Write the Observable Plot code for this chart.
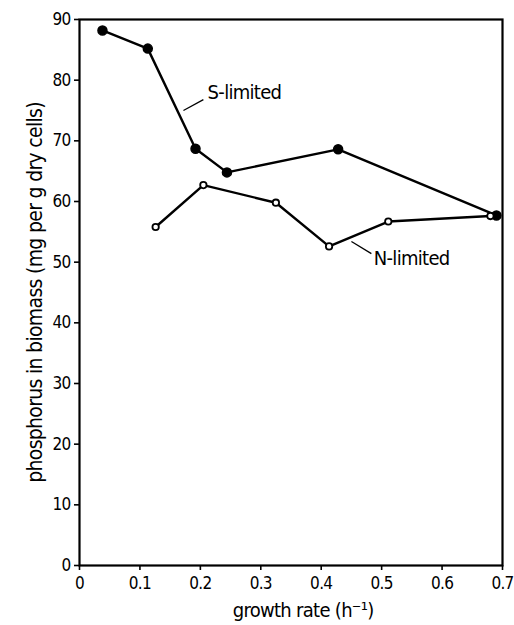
<!DOCTYPE html>
<html>
<head>
<meta charset="utf-8">
<script src="https://cdn.jsdelivr.net/npm/d3@7"></script>
<script src="https://cdn.jsdelivr.net/npm/@observablehq/plot@0.6"></script>
<style>
  html, body { margin: 0; padding: 0; background: #fff; }
  #chart svg { display: block; }
</style>
</head>
<body>
<div id="chart"></div>
<script>
// S-limited (filled circles)
const sGrowth = [0.038, 0.113, 0.192, 0.244, 0.428, 0.690];
const sPhos   = [88.2, 85.2, 68.7, 64.8, 68.6, 57.7];
// N-limited (open circles)
const nGrowth = [0.126, 0.205, 0.325, 0.413, 0.511, 0.680];
const nPhos   = [55.8, 62.7, 59.8, 52.6, 56.7, 57.6];

const xTicks = [0, 0.1, 0.2, 0.3, 0.4, 0.5, 0.6, 0.7];
const xTickLabels = ["0", "0.1", "0.2", "0.3", "0.4", "0.5", "0.6", "0.7"];
const yTicks = [0, 10, 20, 30, 40, 50, 60, 70, 80, 90];

const xTitle = "growth rate (h⁻¹)";
const yTitle = "phosphorus in biomass (mg per g dry cells)";

const labelNames = ["S-limited", "N-limited"];
const labelX = [0.212, 0.487];
const labelY = [78.0, 50.6];
const leaderX1 = [0.172, 0.450];
const leaderY1 = [75.0, 53.4];
const leaderX2 = [0.205, 0.483];
const leaderY2 = [76.8, 51.4];

const sData = sGrowth.map((g, i) => ({g, p: sPhos[i]}));
const nData = nGrowth.map((g, i) => ({g, p: nPhos[i]}));
const labels = labelNames.map((t, i) => ({t, x: labelX[i], y: labelY[i]}));
const leaders = labelNames.map((t, i) => ({x1: leaderX1[i], y1: leaderY1[i], x2: leaderX2[i], y2: leaderY2[i]}));

const font = "'DejaVu Sans Condensed', 'DejaVu Sans', sans-serif";

const chart = Plot.plot({
  width: 514,
  height: 625,
  marginLeft: 79,
  marginRight: 12,
  marginTop: 19,
  marginBottom: 60,
  style: {fontFamily: font, fontSize: "17px", color: "#000", background: "#fff", letterSpacing: "-0.7px"},
  x: {domain: [0, 0.7]},
  y: {domain: [0, 90]},
  marks: [
    Plot.frame({stroke: "#000", strokeWidth: 2.2}),
    Plot.axisX({
      ticks: xTicks,
      tickFormat: (d, i) => xTickLabels[i],
      tickSize: 5,
      tickPadding: 6,
      strokeWidth: 1.6,
      fontSize: 17,
      label: null
    }),
    Plot.axisY({
      ticks: yTicks,
      tickSize: 5,
      tickPadding: 4,
      strokeWidth: 1.6,
      fontSize: 17,
      label: null
    }),
    Plot.text([xTitle], {x: [0.37], frameAnchor: "bottom", dy: 51, text: d => d, fontSize: 20, fill: "#000"}),
    Plot.text([yTitle], {y: [45], frameAnchor: "left", textAnchor: "middle", dx: -44, rotate: -90, text: d => d, fontSize: 21, fill: "#000"}),
    Plot.line(sData, {x: "g", y: "p", stroke: "#000", strokeWidth: 2.4}),
    Plot.line(nData, {x: "g", y: "p", stroke: "#000", strokeWidth: 2.4}),
    Plot.dot(sData, {x: "g", y: "p", r: 4.5, fill: "#000", stroke: "#000"}),
    Plot.dot(nData, {x: "g", y: "p", r: 3.2, fill: "#fff", stroke: "#000", strokeWidth: 1.8}),
    Plot.link(leaders, {x1: "x1", y1: "y1", x2: "x2", y2: "y2", stroke: "#000", strokeWidth: 1.3}),
    Plot.text(labels, {x: "x", y: "y", text: "t", textAnchor: "start", fontSize: 20, fill: "#000"})
  ]
});
document.getElementById("chart").appendChild(chart);
</script>
</body>
</html>
